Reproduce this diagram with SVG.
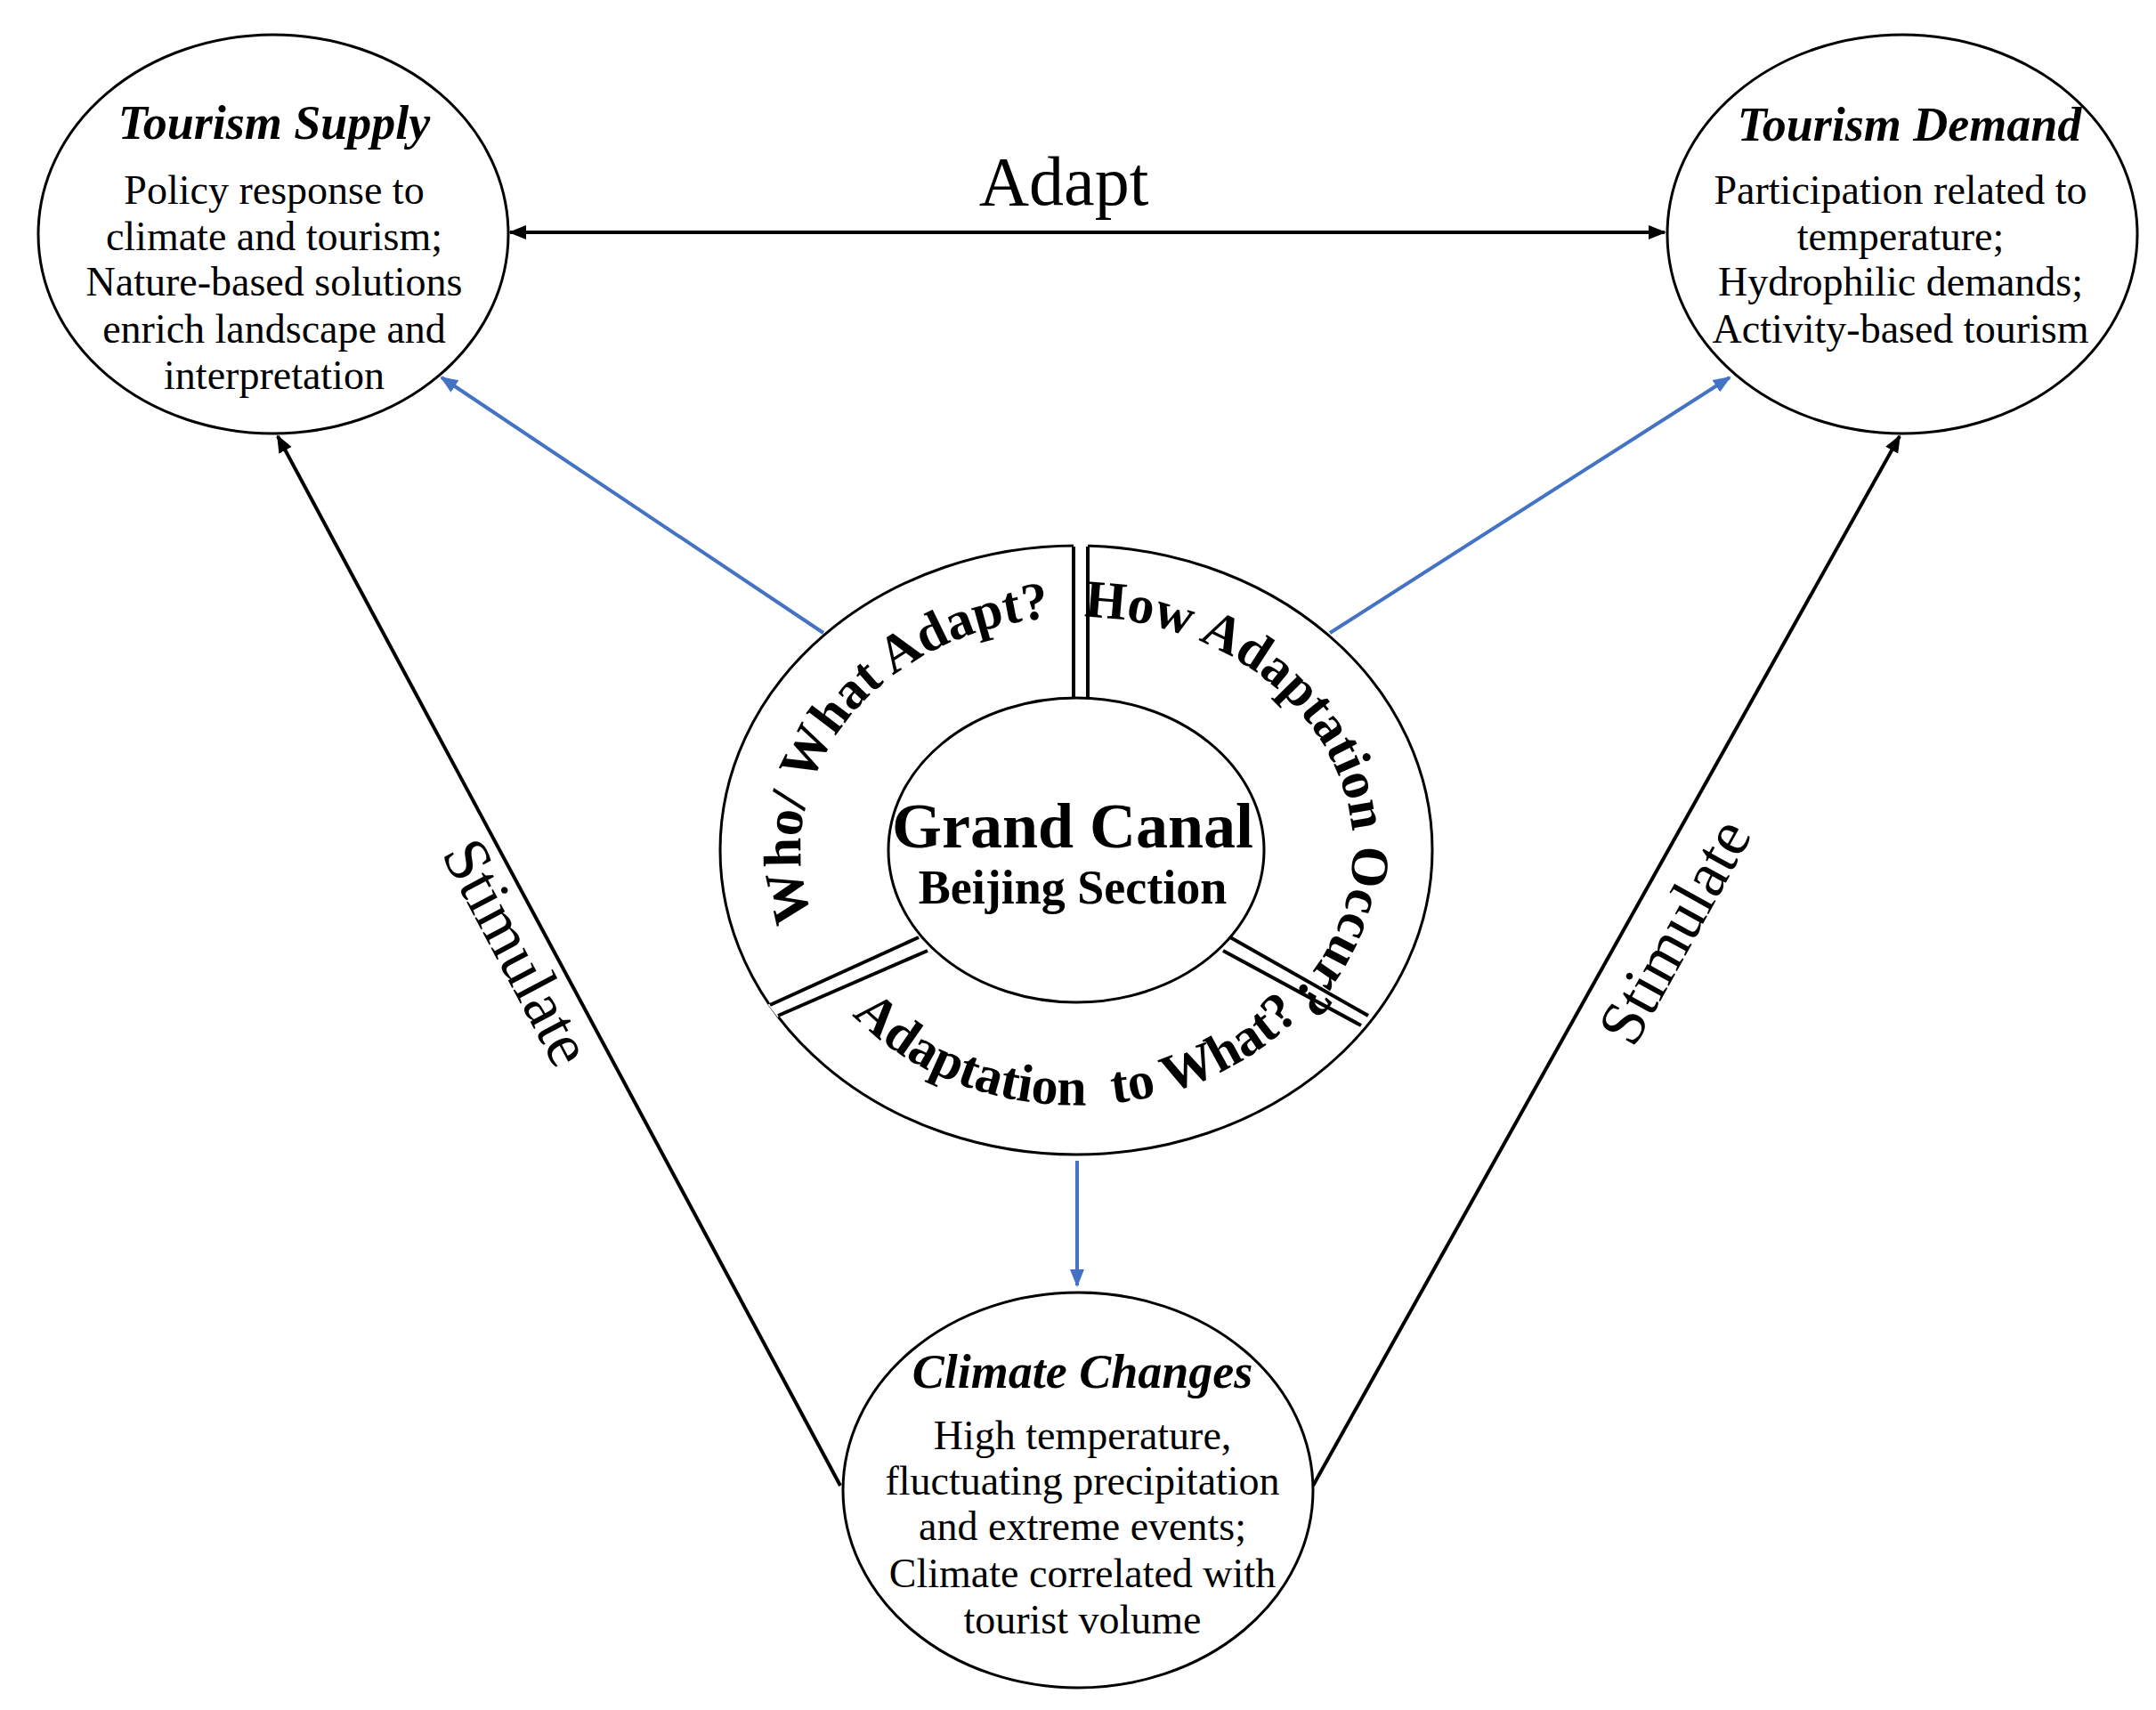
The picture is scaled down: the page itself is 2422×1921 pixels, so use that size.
<svg xmlns="http://www.w3.org/2000/svg" width="2422" height="1921" viewBox="0 0 2422 1921">
<style>
.n{fill:#fff;stroke:#000;stroke-width:3}
.t{font-family:"Liberation Serif",serif;fill:#000;text-anchor:middle}
.h{font-weight:bold;font-style:italic;font-size:54px}
.b{font-size:46px}
.r{font-weight:bold;font-size:60px}
.k{stroke:#000;stroke-width:4;fill:none}
.u{stroke:#4472C4;stroke-width:4;fill:none}
</style>
<defs>
<marker id="ak" viewBox="0 0 10 10" refX="9" refY="5" markerWidth="5" markerHeight="5" orient="auto-start-reverse"><path d="M0,1 L10,5 L0,9 z" fill="#000"/></marker>
<marker id="au" viewBox="0 0 10 10" refX="9" refY="5" markerWidth="5" markerHeight="5" orient="auto"><path d="M0,1 L10,5 L0,9 z" fill="#4472C4"/></marker>
<path id="p1" d="M955,1105 A310,262 0 0 1 1263,697"/>
<path id="p2" d="M1198,693 A310,262 0 0 1 1436,1134"/>
<path id="p3" d="M899,1053 A330,287 0 0 0 1519,1053"/>
</defs>
<rect width="2422" height="1921" fill="#fff"/>
<g id="connectors">
<line class="k" x1="573" y1="261" x2="1870" y2="261" marker-start="url(#ak)" marker-end="url(#ak)"/>
<line class="u" x1="925" y1="711" x2="496" y2="424" marker-end="url(#au)"/>
<line class="u" x1="1494" y1="711" x2="1943" y2="424" marker-end="url(#au)"/>
<line class="u" x1="1210" y1="1304" x2="1210" y2="1444" marker-end="url(#au)"/>
<line class="k" x1="944" y1="1669" x2="312" y2="490" marker-end="url(#ak)"/>
<line class="k" x1="1475" y1="1669" x2="2134" y2="490" marker-end="url(#ak)"/>
<text class="t" x="1195" y="230" font-size="78">Adapt</text>
<text class="t" font-size="72" transform="translate(560,1081) rotate(62)">Stimulate</text>
<text class="t" font-size="72" transform="translate(1902,1058) rotate(-61)">Stimulate</text>
</g>
<g id="supply">
<ellipse class="n" cx="307" cy="263" rx="264" ry="224"/>
<text class="t h" x="308" y="156">Tourism Supply</text>
<text class="t b" x="308" y="229">Policy response to</text>
<text class="t b" x="308" y="281">climate and tourism;</text>
<text class="t b" x="308" y="332">Nature-based solutions</text>
<text class="t b" x="308" y="385">enrich landscape and</text>
<text class="t b" x="308" y="437">interpretation</text>
</g>
<g id="demand">
<ellipse class="n" cx="2137" cy="263" rx="264" ry="224"/>
<text class="t h" x="2145" y="158">Tourism Demand</text>
<text class="t b" x="2135" y="229">Participation related to</text>
<text class="t b" x="2135" y="281">temperature;</text>
<text class="t b" x="2135" y="332">Hydrophilic demands;</text>
<text class="t b" x="2135" y="385">Activity-based tourism</text>
</g>
<g id="climate">
<ellipse class="n" cx="1211" cy="1674" rx="264" ry="222"/>
<text class="t h" x="1216" y="1559">Climate Changes</text>
<text class="t b" x="1216" y="1628">High temperature,</text>
<text class="t b" x="1216" y="1679">fluctuating precipitation</text>
<text class="t b" x="1216" y="1730">and extreme events;</text>
<text class="t b" x="1216" y="1783">Climate correlated with</text>
<text class="t b" x="1216" y="1835">tourist volume</text>
</g>
<g id="center">
<ellipse class="n" cx="1209" cy="955" rx="400" ry="342"/>
<polygon points="1206,605 1222,605 1222,787 1206,787" fill="#fff"/>
<line class="k" x1="1206" y1="614" x2="1206" y2="787" stroke-width="3"/>
<line class="k" x1="1222" y1="614" x2="1222" y2="787" stroke-width="3"/>
<polygon points="1032,1053 1042,1068 874,1141 865,1129" fill="#fff" stroke="#fff" stroke-width="3"/>
<line class="k" x1="1032" y1="1053" x2="865" y2="1129" stroke-width="3"/>
<line class="k" x1="1042" y1="1068" x2="874" y2="1141" stroke-width="3"/>
<polygon points="1382,1053 1374,1068 1529,1152 1537,1141" fill="#fff" stroke="#fff" stroke-width="3"/>
<line class="k" x1="1382" y1="1053" x2="1537" y2="1141" stroke-width="3"/>
<line class="k" x1="1374" y1="1068" x2="1529" y2="1152" stroke-width="3"/>
<ellipse class="n" cx="1209" cy="955" rx="211" ry="171"/>
<text class="t" font-weight="bold" font-size="72" x="1205" y="952">Grand Canal</text>
<text class="t" font-weight="bold" font-size="54" x="1205" y="1015">Beijing Section</text>
<text class="t r" font-size="58"><textPath href="#p1" startOffset="50%">Who/ What Adapt?</textPath></text>
<text class="t r" font-size="54"><textPath href="#p2" startOffset="50%">How Adaptation Occur?</textPath></text>
<text class="t r" font-size="64"><textPath href="#p3" startOffset="50%">Adaptation&#160; to What?</textPath></text>
</g>
</svg>
